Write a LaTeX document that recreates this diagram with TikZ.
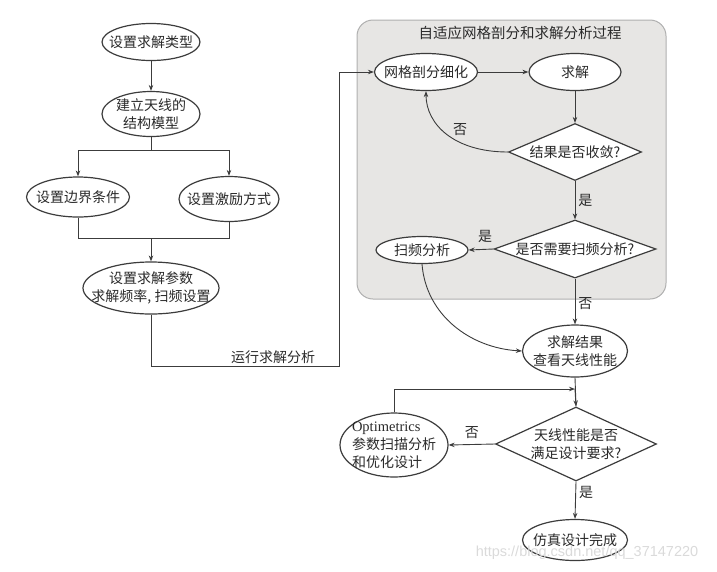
\documentclass[tikz,border=0pt]{standalone}
\usepackage{fontspec}
\setmainfont{Liberation Serif}
\newfontfamily\cjk{Noto Sans CJK SC}
\newfontfamily\wmfont{Liberation Sans}
\usetikzlibrary{shapes.geometric,arrows.meta}
\definecolor{ln}{HTML}{3C3C3C}
\definecolor{tx}{HTML}{2A2A2A}
\definecolor{panelfill}{HTML}{E7E6E4}
\definecolor{panelline}{HTML}{AFAFAF}
\definecolor{wm}{HTML}{DADADA}
\begin{document}
\begin{tikzpicture}[x=1pt,y=-1pt,
  every label/.style={text=tx,font=\cjk\fontsize{14}{18}\selectfont,align=center,inner sep=0pt},
  ell/.style={ellipse,draw=ln,line width=1.2pt,inner sep=0pt,fill=white},
  dia/.style={diamond,draw=ln,line width=1.2pt,inner sep=0pt,fill=white},
  conn/.style={draw=ln,line width=0.9pt},
  arr/.style={conn,-{Stealth[length=6pt,width=4.5pt]}},
  lbl/.style={text=tx,font=\cjk\fontsize{14}{16}\selectfont,inner sep=1pt}
]
\useasboundingbox (0,0) rectangle (717,571);

% panel
\node[draw=panelline,fill=panelfill,line width=1pt,rounded corners=16pt,
  minimum width=309pt,minimum height=279pt,inner sep=0pt] (panel) at (511.5,159.5) {};
\node[lbl,font=\cjk\fontsize{14.5}{16}\selectfont] (ptitle) at (520,33) {自适应网格剖分和求解分析过程};

% left column
\node[ell,minimum width=98pt,minimum height=37pt,label={center:设置求解类型}] (t1) at (151,42) {};
\node[ell,minimum width=98pt,minimum height=45pt,label={center:建立天线的\\结构模型}] (t2) at (151,114) {};
\node[ell,minimum width=103pt,minimum height=40pt,label={center:设置边界条件}] (b1) at (78,197) {};
\node[ell,minimum width=100pt,minimum height=45pt,label={center:设置激励方式}] (b2) at (229,199) {};
\node[ell,minimum width=136pt,minimum height=52pt,label={center:设置求解参数\\求解频率, 扫频设置}] (p) at (151,288) {};

% right column
\node[ell,minimum width=103pt,minimum height=37pt,label={center:网格剖分细化}] (mesh) at (426,72) {};
\node[ell,minimum width=92pt,minimum height=37pt,label={center:求解}] (solve) at (575,72) {};
\node[dia,minimum width=133pt,minimum height=57pt,label={center:结果是否收敛?}] (d1) at (575,152) {};
\node[dia,minimum width=162pt,minimum height=58pt,label={center:是否需要扫频分析?}] (d2) at (575,249) {};
\node[ell,minimum width=92pt,minimum height=27pt,label={center:扫频分析}] (sweep) at (422,250) {};
\node[ell,minimum width=105pt,minimum height=52pt,label={center:求解结果\\查看天线性能}] (res) at (575,351) {};
\node[dia,minimum width=161pt,minimum height=74pt,label={center:天线性能是否\\满足设计要求?}] (d3) at (576,444) {};
\node[ell,minimum width=108pt,minimum height=64pt,
  label={[align=left]center:{\rmfamily\fontsize{14.5}{18}\selectfont Optimetrics}\\参数扫描分析\\和优化设计}] (opt) at (394,445) {};
\node[ell,minimum width=105pt,minimum height=41pt,label={center:仿真设计完成}] (done) at (575,540) {};

% coordinates
\coordinate (s1) at (151,150);
\coordinate (m1) at (151,238);
\coordinate (c1) at (339,366);
\coordinate (j) at (575,389);

% left connectors
\draw[arr] (t1) -- (t2);
\draw[conn] (t2.south) -- (s1);
\draw[arr] (s1) -| (b1.north);
\draw[arr] (s1) -| (b2.north);
\draw[conn] (b1.south) |- (m1);
\draw[conn] (b2.south) |- (m1);
\draw[arr] (m1) -- (p.north);
\draw[arr] (p.south) |- (c1) |- (mesh.west);
\node[lbl,anchor=south] (run) at (273,365) {运行求解分析};

% right connectors
\draw[arr] (mesh) -- (solve);
\draw[arr] (solve) -- (d1.north);
\draw[arr] (d1.west) .. controls (455,152) and (426,125) .. (mesh.south);
\node[lbl] (no1) at (460,130) {否};
\draw[arr] (d1.south) -- node[lbl,right=2pt] (yes1) {是} (d2.north);
\draw[arr] (d2.west) -- node[lbl,above=5pt,xshift=4pt] (yes2) {是} (sweep.east);
\draw[arr] (d2.south) -- node[lbl,right=2pt,pos=0.55] (no2) {否} (res.north);
\draw[arr] (sweep.south) .. controls (426,315) and (470,348) .. (res.west);
\draw[conn] (res.south) -- (d3.north);
\draw[arr] (j) -- (d3.north);
\draw[arr] (opt.north) |- (j);
\draw[arr] (d3.west) -- node[lbl,above=4pt] (no3) {否} (opt.east);
\draw[arr] (d3.south) -- node[lbl,right=2pt,pos=0.3] (yes3) {是} (done.north);

% watermark
\node[text=wm,font=\wmfont\fontsize{14.5}{16}\selectfont,inner sep=0pt] (wmark) at (587,553) {https://blog.csdn.net/qq\_37147220};
\end{tikzpicture}
\end{document}
